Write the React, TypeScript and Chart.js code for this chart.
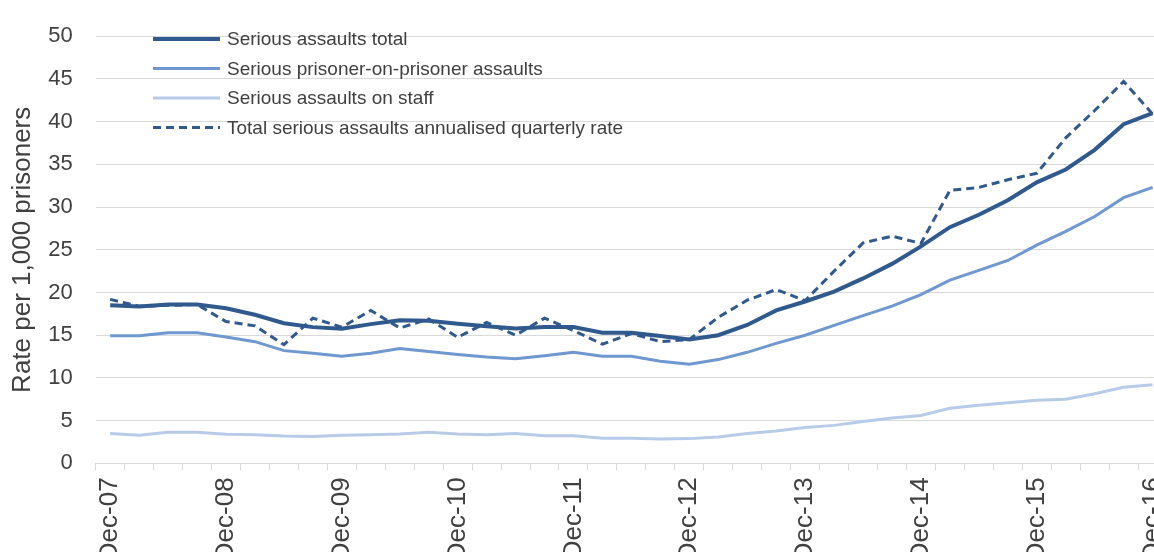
import React, { useEffect, useRef } from 'react';
import { Chart, registerables } from 'chart.js';

Chart.register(...registerables);

const categories = [
  'Dec-07', 'Mar-08', 'Jun-08', 'Sep-08',
  'Dec-08', 'Mar-09', 'Jun-09', 'Sep-09',
  'Dec-09', 'Mar-10', 'Jun-10', 'Sep-10',
  'Dec-10', 'Mar-11', 'Jun-11', 'Sep-11',
  'Dec-11', 'Mar-12', 'Jun-12', 'Sep-12',
  'Dec-12', 'Mar-13', 'Jun-13', 'Sep-13',
  'Dec-13', 'Mar-14', 'Jun-14', 'Sep-14',
  'Dec-14', 'Mar-15', 'Jun-15', 'Sep-15',
  'Dec-15', 'Mar-16', 'Jun-16', 'Sep-16',
  'Dec-16',
];

const seriousTotal = [
  18.5, 18.35, 18.6, 18.6, 18.15, 17.4, 16.4, 15.95, 15.75, 16.3, 16.75, 16.7,
  16.35, 16.05, 15.8, 15.95, 15.95, 15.3, 15.3, 14.9, 14.5, 15.0, 16.2, 17.9,
  18.95, 20.1, 21.65, 23.35, 25.4, 27.65, 29.1, 30.8, 32.9, 34.4, 36.7, 39.7, 41.0,
];

const prisonerOnPrisoner = [
  14.95, 14.95, 15.3, 15.3, 14.8, 14.25, 13.2, 12.9, 12.55, 12.9, 13.45, 13.1,
  12.75, 12.45, 12.25, 12.6, 13.0, 12.55, 12.55, 11.95, 11.6, 12.15, 13.0, 14.05,
  15.0, 16.15, 17.3, 18.4, 19.75, 21.45, 22.6, 23.75, 25.55, 27.15, 28.9, 31.1, 32.3,
];

const onStaff = [
  3.5, 3.3, 3.65, 3.65, 3.4, 3.35, 3.2, 3.15, 3.3, 3.35, 3.45, 3.65,
  3.45, 3.35, 3.5, 3.25, 3.25, 2.95, 2.95, 2.85, 2.9, 3.1, 3.5, 3.8,
  4.2, 4.45, 4.9, 5.3, 5.6, 6.45, 6.8, 7.1, 7.4, 7.5, 8.15, 8.9, 9.2,
];

const annualisedQuarterly = [
  19.2, 18.4, 18.5, 18.6, 16.6, 16.1, 13.9, 17.0, 15.95, 17.9, 15.85, 16.9,
  14.75, 16.5, 15.0, 17.0, 15.55, 13.95, 15.2, 14.25, 14.5, 17.1, 19.1, 20.35,
  19.05, 22.5, 25.8, 26.6, 25.75, 31.95, 32.3, 33.2, 33.95, 38.1, 41.3, 44.7, 40.9,
];

const seriesLabels = [
  'Serious assaults total',
  'Serious prisoner-on-prisoner assaults',
  'Serious assaults on staff',
  'Total serious assaults annualised quarterly rate',
];

const yTicks = [0, 5, 10, 15, 20, 25, 30, 35, 40, 45, 50];

const DARK = '#30598E';
const MID = '#6E98CF';
const LIGHT = '#B7CBE8';
const TEXT = '#404040';
const GRID = '#D9D9D9';
const FONT = "'Liberation Sans', Arial, sans-serif";

const CANVAS_W = 1191;
const CANVAS_H = 600;

const insideLegend = {
  id: 'insideLegend',
  afterDraw(chart: any) {
    const ctx = chart.ctx;
    const lineX0 = 153;
    const lineX1 = 220;
    const textX = 227;
    const rowY0 = 39;
    const rowGap = 29.5;
    ctx.save();
    chart.data.datasets.forEach((ds: any, i: number) => {
      const y = rowY0 + i * rowGap;
      ctx.beginPath();
      ctx.strokeStyle = ds.borderColor;
      ctx.lineWidth = ds.borderWidth;
      ctx.lineCap = 'butt';
      ctx.setLineDash(ds.borderDash || []);
      ctx.moveTo(lineX0, y);
      ctx.lineTo(lineX1, y);
      ctx.stroke();
      ctx.setLineDash([]);
      ctx.fillStyle = TEXT;
      ctx.font = `19px ${FONT}`;
      ctx.textBaseline = 'middle';
      ctx.textAlign = 'left';
      ctx.fillText(ds.label, textX, y + 1);
    });
    ctx.restore();
  },
};

export default function App() {
  const canvasRef = useRef<HTMLCanvasElement | null>(null);

  useEffect(() => {
    if (!canvasRef.current) return;
    const chart = new Chart(canvasRef.current, {
      type: 'line',
      data: {
        labels: categories,
        datasets: [
          {
            label: seriesLabels[0],
            data: seriousTotal,
            borderColor: DARK,
            backgroundColor: DARK,
            borderWidth: 4,
            pointRadius: 0,
            tension: 0,
            order: 1,
          },
          {
            label: seriesLabels[1],
            data: prisonerOnPrisoner,
            borderColor: MID,
            backgroundColor: MID,
            borderWidth: 3,
            pointRadius: 0,
            tension: 0,
            order: 2,
          },
          {
            label: seriesLabels[2],
            data: onStaff,
            borderColor: LIGHT,
            backgroundColor: LIGHT,
            borderWidth: 3,
            pointRadius: 0,
            tension: 0,
            order: 3,
          },
          {
            label: seriesLabels[3],
            data: annualisedQuarterly,
            borderColor: DARK,
            backgroundColor: DARK,
            borderWidth: 3,
            borderDash: [8, 5],
            pointRadius: 0,
            tension: 0,
            order: 0,
          },
        ],
      },
      options: {
        responsive: false,
        animation: false,
        devicePixelRatio: 1,
        layout: { padding: { top: 24.3, right: 15, left: 0, bottom: 0 } },
        plugins: {
          legend: { display: false },
          tooltip: { enabled: false },
        },
        scales: {
          x: {
            type: 'category',
            offset: true,
            grid: {
              display: true,
              drawOnChartArea: false,
              drawTicks: true,
              tickLength: 7,
              offset: true,
              color: GRID,
              lineWidth: 1,
            },
            border: { display: true, color: GRID },
            ticks: {
              autoSkip: false,
              minRotation: 90,
              maxRotation: 90,
              padding: 7,
              color: TEXT,
              font: { family: FONT, size: 26 },
              callback: (_v: any, i: number) =>
                categories[i].startsWith('Dec') ? categories[i] : '',
            },
            afterFit: (scale: any) => {
              scale.height = CANVAS_H - 463.4;
            },
          },
          y: {
            min: yTicks[0],
            max: yTicks[yTicks.length - 1],
            afterBuildTicks: (scale: any) => {
              scale.ticks = yTicks.map((v) => ({ value: v }));
            },
            ticks: {
              padding: 23,
              color: TEXT,
              font: { family: FONT, size: 22 },
            },
            grid: { color: GRID, drawTicks: false, lineWidth: 1 },
            border: { display: false },
            title: {
              display: true,
              text: 'Rate per 1,000 prisoners',
              color: TEXT,
              font: { family: FONT, size: 26 },
              padding: { top: 7, bottom: 0 },
            },
            afterFit: (scale: any) => {
              scale.width = 95.7;
            },
          },
        },
      },
      plugins: [insideLegend],
    });
    return () => chart.destroy();
  }, []);

  return (
    <div
      style={{
        position: 'fixed',
        left: 0,
        top: 0,
        width: 1154,
        height: 552,
        overflow: 'hidden',
        background: '#ffffff',
      }}
    >
      <div style={{ position: 'absolute', left: 0, top: 0, width: CANVAS_W, height: CANVAS_H }}>
        <canvas ref={canvasRef} width={CANVAS_W} height={CANVAS_H} />
      </div>
    </div>
  );
}
